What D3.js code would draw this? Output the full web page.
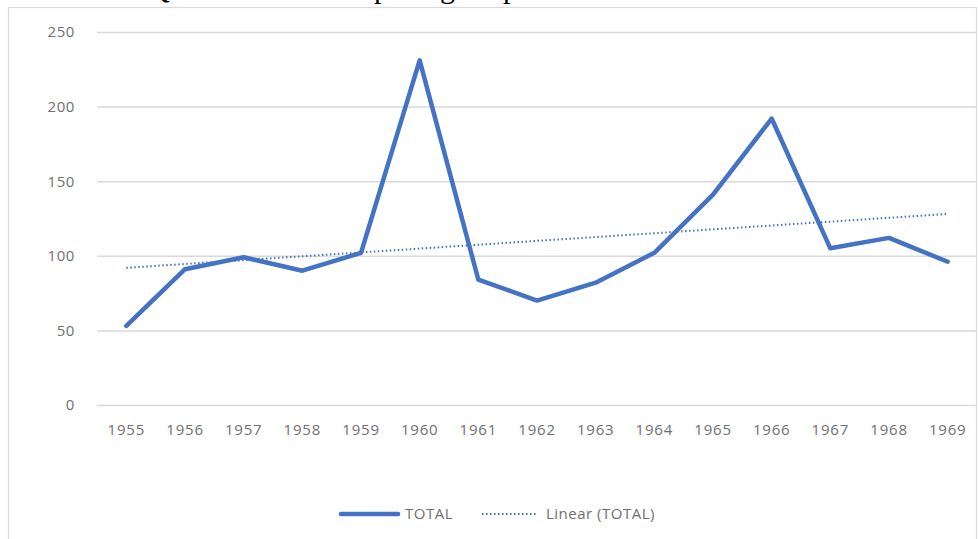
<!DOCTYPE html>
<html>
<head>
<meta charset="utf-8">
<script src="https://cdn.jsdelivr.net/npm/d3@7/dist/d3.min.js"></script>
<style>
  html, body { margin: 0; padding: 0; background: #fff; }
  svg { display: block; }
</style>
</head>
<body>
<svg id="chart" width="978" height="539"></svg>
<script>
// Yearly totals, 1955–1969
const years = ["1955","1956","1957","1958","1959","1960","1961","1962","1963","1964","1965","1966","1967","1968","1969"];
const totals = [53, 91, 99, 90, 102, 231, 84, 70, 82, 102, 141, 192, 105, 112, 96];
const yTicks = [0, 50, 100, 150, 200, 250];
const seriesName = "TOTAL";
const trendName = "Linear (TOTAL)";

const svg = d3.select("#chart");
const W = 978, H = 539;
const blue = "#4472C4";
const grid = "#d9d9d9";
const textCol = "#707070";
const font = "'Open Sans', 'Liberation Sans', sans-serif";

// Caption text from the page above the chart, only its lower edge shows
const cap = svg.append("g")
  .attr("font-family", "'Liberation Serif', 'Times New Roman', serif")
  .attr("font-size", 30).attr("fill", "#000");
[["Q", 148], ["p", 374], ["g", 440], ["p", 503]].forEach(([ch, x]) => {
  cap.append("text").attr("x", x).attr("y", -2).text(ch);
});

// Chart frame
svg.append("rect")
  .attr("x", 8.5).attr("y", 7.5)
  .attr("width", 968).attr("height", H)
  .attr("fill", "#fff").attr("stroke", grid).attr("stroke-width", 1.2);

const x = d3.scaleBand().domain(years).range([97, 977]);
const y = d3.scaleLinear().domain([0, 250]).range([405, 32]);
const cx = d => x(d) + x.bandwidth() / 2;

// Horizontal gridlines and y labels
const yAxis = d3.axisLeft(y).tickValues(yTicks).tickSize(-(977 - 97)).tickPadding(22);
const gy = svg.append("g").attr("transform", "translate(97,0)").call(yAxis);
gy.select(".domain").remove();
gy.selectAll(".tick line").attr("stroke", grid).attr("stroke-width", 1.5);
gy.selectAll(".tick text")
  .attr("fill", textCol).attr("font-family", font).attr("font-size", 15)
  .attr("letter-spacing", 0.6);

// Category labels
const xAxis = d3.axisBottom(x).tickSize(0).tickPadding(19);
const gx = svg.append("g").attr("transform", "translate(0,405)").call(xAxis);
gx.select(".domain").remove();
gx.selectAll(".tick text")
  .attr("fill", textCol).attr("font-family", font).attr("font-size", 15)
  .attr("letter-spacing", 0.8);

// Least-squares trend over the series
const n = totals.length;
const xs = d3.range(n);
const mx = d3.mean(xs), my = d3.mean(totals);
const slope = d3.sum(xs, i => (i - mx) * (totals[i] - my)) / d3.sum(xs, i => (i - mx) ** 2);
const icpt = my - slope * mx;

const trendLine = d3.line()
  .x(i => cx(years[i]))
  .y(i => y(icpt + slope * i));
svg.append("path")
  .datum([0, n - 1])
  .attr("d", trendLine)
  .attr("fill", "none").attr("stroke", blue)
  .attr("stroke-width", 2).attr("stroke-dasharray", "1.5 2.5");

// Series line
const line = d3.line()
  .x((d, i) => cx(years[i]))
  .y(d => y(d));
svg.append("path")
  .datum(totals)
  .attr("d", line)
  .attr("fill", "none").attr("stroke", blue)
  .attr("stroke-width", 4.5)
  .attr("stroke-linejoin", "round").attr("stroke-linecap", "round");

// Legend
const lg = svg.append("g").attr("font-family", font).attr("font-size", 15).attr("fill", textCol);
lg.append("line").attr("x1", 341).attr("x2", 398).attr("y1", 514).attr("y2", 514)
  .attr("stroke", blue).attr("stroke-width", 4.5).attr("stroke-linecap", "round");
lg.append("text").attr("x", 405).attr("y", 519).attr("letter-spacing", 0.5).text(seriesName);
lg.append("line").attr("x1", 482).attr("x2", 538).attr("y1", 514).attr("y2", 514)
  .attr("stroke", blue).attr("stroke-width", 2).attr("stroke-dasharray", "1.5 2.5");
lg.append("text").attr("x", 546).attr("y", 519).attr("letter-spacing", 0.5).text(trendName);
</script>
</body>
</html>
